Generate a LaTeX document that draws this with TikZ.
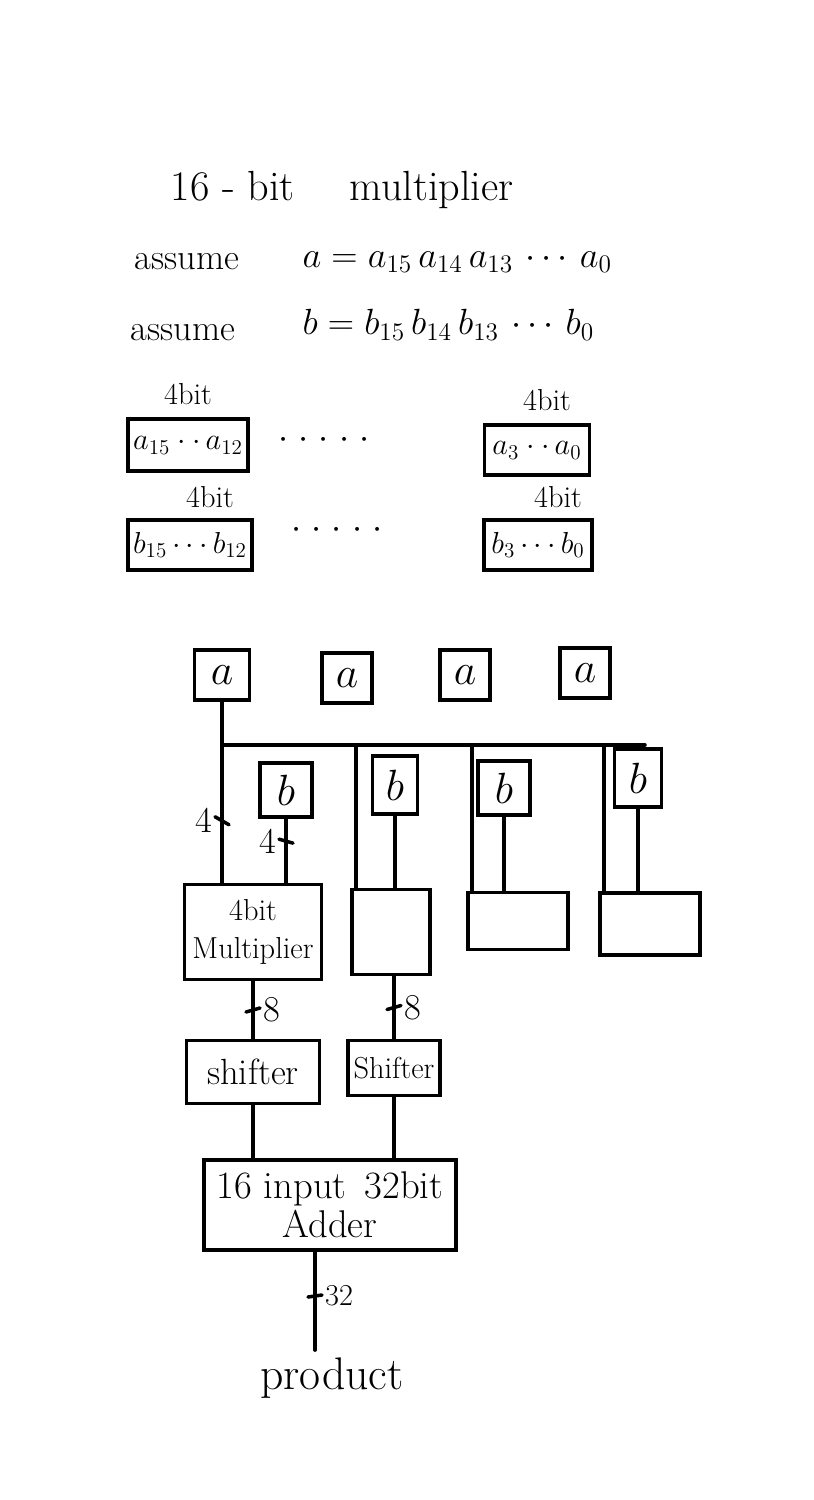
\documentclass[tikz,border=0pt]{standalone}
\usepackage{fix-cm}
\usetikzlibrary{positioning}
\begin{document}
\begin{tikzpicture}[x=0.2mm, y=-0.2mm, line width=2pt, line cap=round,
    box/.style={draw, inner sep=1mm},
    big/.style={font=\huge},
    mid/.style={font=\LARGE}]
  \useasboundingbox (0,0) rectangle (813,1500);

  % heading and the two operands
  \node[font=\fontsize{24}{28}\selectfont] (title) at (342,190) {16 - bit \quad multiplier};
  \node[big] (asa) at (187,262) {assume};
  \node[big, anchor=west] (eqa) at (295,262) {$a = a_{15}\,a_{14}\,a_{13}\,\cdots\,a_0$};
  \node[big] (asb) at (183,333) {assume};
  \node[big, anchor=west] (eqb) at (295,325) {$b = b_{15}\,b_{14}\,b_{13}\,\cdots\,b_0$};

  % 4-bit groups
  \node[box, mid, minimum width=22mm, minimum height=10.4mm] (ahi) at (188,445) {$a_{15}\cdot\cdot\,a_{12}$};
  \node[box, mid, minimum width=21mm, minimum height=10mm] (alo) at (537,450) {$a_3\cdot\cdot\,a_0$};
  \node[box, mid, minimum width=22mm, minimum height=10mm] (bhi) at (190,545) {$b_{15}\cdots b_{12}$};
  \node[box, mid, minimum width=21.6mm, minimum height=10mm] (blo) at (538,545) {$b_3\cdots b_0$};
  \node[mid, above=1mm of ahi] (wahi) {4bit};
  \node[mid, above=1mm of alo, xshift=2mm] (walo) {4bit};
  \node[mid, above=0.5mm of bhi, xshift=4mm] (wbhi) {4bit};
  \node[mid, above=0.5mm of blo, xshift=4mm] (wblo) {4bit};
  \node[big] (dota) at (324,440) {${\cdot}\;{\cdot}\;{\cdot}\;{\cdot}\;{\cdot}$};
  \node[big] (dotb) at (337,530) {${\cdot}\;{\cdot}\;{\cdot}\;{\cdot}\;{\cdot}$};

  % slices of a and b
  \node[box, font=\Huge, minimum width=11mm, minimum height=10mm] (a1) at (222,675) {$a$};
  \node[box, font=\Huge, minimum width=10mm, minimum height=10mm] (a2) at (347,678) {$a$};
  \node[box, font=\Huge, minimum width=10mm, minimum height=10mm] (a3) at (465,675) {$a$};
  \node[box, font=\Huge, minimum width=10mm, minimum height=10mm] (a4) at (585,673) {$a$};
  \node[box, font=\Huge, minimum width=10.4mm, minimum height=10.8mm] (b1) at (286,790) {$b$};
  \node[box, font=\Huge, minimum width=9mm, minimum height=11.6mm] (b2) at (395,785) {$b$};
  \node[box, font=\Huge, minimum width=10.4mm, minimum height=10.8mm] (b3) at (504,788) {$b$};
  \node[box, font=\Huge, minimum width=9.4mm, minimum height=11.6mm] (b4) at (638,778) {$b$};

  % 4-bit multipliers
  \node[box, mid, align=center, minimum width=27.4mm, minimum height=19mm] (m1) at (253,932) {4bit\\Multiplier};
  \node[box, minimum width=15.6mm, minimum height=17mm] (m2) at (391,932) {};
  \node[box, minimum width=20mm, minimum height=11.4mm] (m3) at (518,921) {};
  \node[box, minimum width=20mm, minimum height=12.4mm] (m4) at (650,924) {};

  % bus from the first a slice
  \coordinate (busL) at (a1.south |- 0,745);
  \coordinate (busR) at (645,745);
  \draw (a1.south) -- (busL) -- (busR);
  \draw (busL) -- coordinate[pos=.55] (t4a) (busL |- m1.north);
  \coordinate (a2in) at ([xshift=1.2mm]m2.north west);
  \coordinate (a3in) at ([xshift=1.2mm]m3.north west);
  \coordinate (a4in) at ([xshift=1.2mm]m4.north west);
  \draw (a2in |- busL) -- (a2in);
  \draw (a3in |- busL) -- (a3in);
  \draw (a4in |- busL) -- (a4in);

  % b slices into the multipliers
  \draw (b1.south) -- coordinate[pos=.35] (t4b) (b1.south |- m1.north);
  \draw (b2.south) -- (b2.south |- m2.north);
  \draw (b3.south) -- (b3.south |- m3.north);
  \draw (b4.south) -- (b4.south |- m4.north);
  \draw ([shift={(-7,-4)}]t4a) -- ([shift={(7,4)}]t4a);
  \node[big, left=0.5mm of t4a] (l4a) {4};
  \draw ([shift={(-7,-2)}]t4b) -- ([shift={(7,2)}]t4b);
  \node[big, left=0.5mm of t4b] (l4b) {4};

  % shifters
  \node[box, big, minimum width=26.6mm, minimum height=12.6mm] (s1) at (253,1072) {shifter};
  \node[box, mid, inner sep=0.5mm, minimum width=18.4mm, minimum height=11mm] (s2) at (394,1068) {Shifter};
  \draw (s1.north |- m1.south) -- coordinate (t8a) (s1.north);
  \draw (s2.north |- m2.south) -- coordinate (t8b) (s2.north);
  \draw ([shift={(-7,2)}]t8a) -- ([shift={(7,-2)}]t8a);
  \node[big, right=0.5mm of t8a] (l8a) {8};
  \draw ([shift={(-7,2)}]t8b) -- ([shift={(7,-2)}]t8b);
  \node[big, right=0.5mm of t8b] (l8b) {8};

  % adder and product
  \node[box, font=\fontsize{22}{22}\selectfont, align=center, minimum width=50.4mm, minimum height=18mm, inner sep=0.5mm] (add) at (330,1205) {16 input \,32bit\\Adder};
  \draw (s1.south) -- (s1.south |- add.north);
  \draw (s2.south) -- (s2.south |- add.north);
  \node[font=\fontsize{26}{30}\selectfont] (prod) at (332,1378) {product};
  \coordinate (out) at ([xshift=-3mm]add.south);
  \draw (out) -- coordinate[pos=.45] (t32) (out |- prod.north);
  \draw ([shift={(-7,1)}]t32) -- ([shift={(7,-1)}]t32);
  \node[mid, right=0.5mm of t32] (l32) {32};
\end{tikzpicture}
\end{document}
